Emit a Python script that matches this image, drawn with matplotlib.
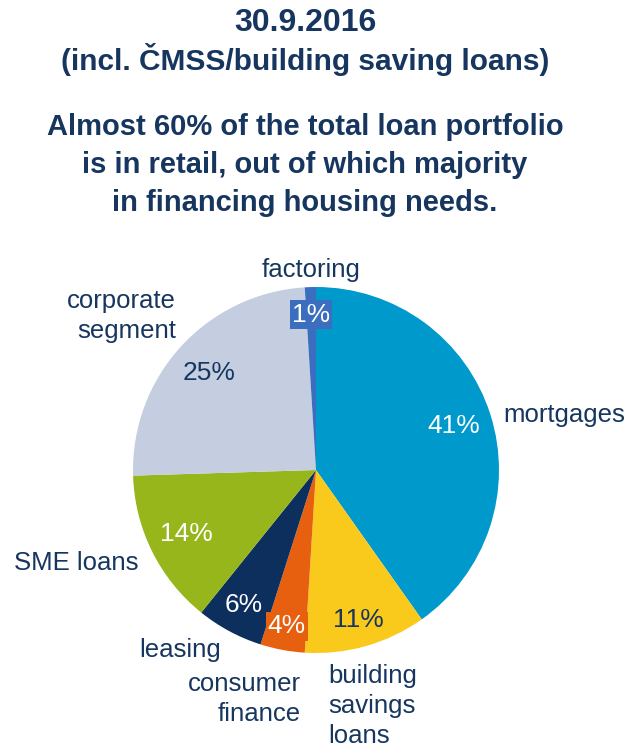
import matplotlib.pyplot as plt
import numpy as np

plt.rcParams['font.family'] = ['Liberation Sans', 'DejaVu Sans']

# loan portfolio split, clockwise from 12 o'clock
segments = ['mortgages', 'building savings loans', 'consumer finance', 'leasing',
            'SME loans', 'corporate segment', 'factoring']
shares = [41, 11, 4, 6, 14, 25, 1]
colors = ['#0099cc', '#f9c91b', '#e6600f', '#0c2f5e', '#96b61b', '#c4cee0', '#3b6ebf']
pct_colors = ['white', '#16365f', 'white', 'white', 'white', '#16365f', 'white']
pct_boxes = [None, None, '#e6600f', None, None, None, '#3b6ebf']
pct_dist = [0.79, 0.85, 0.87, 0.84, 0.79, 0.79, 0.85]

navy = '#16365f'
W, H = 631, 750

fig = plt.figure(figsize=(W / 100, H / 100), dpi=100)
ax = fig.add_axes([0, 0, 1, 1])

cx, cy, r = 316, H - 470, 183
wedges, _ = ax.pie(shares, colors=colors, startangle=90, counterclock=False,
                   center=(cx, cy), radius=r, frame=True)
ax.set_xlim(0, W)
ax.set_ylim(0, H)
ax.set_aspect('equal')
ax.axis('off')

for w, s, c, box, d in zip(wedges, shares, pct_colors, pct_boxes, pct_dist):
    mid = np.deg2rad((w.theta1 + w.theta2) / 2)
    x = cx + d * r * np.cos(mid)
    y = cy + d * r * np.sin(mid)
    kw = {}
    if box:
        kw['bbox'] = dict(facecolor=box, edgecolor='none', pad=1.5)
    ax.text(x, y, f'{s}%', color=c, fontsize=19, ha='center', va='center', **kw)

# outer category labels
outer = [
    ('factoring', 311, 270, 'center'),
    ('corporate\nsegment', 176, 316, 'right'),
    ('mortgages', 503, 415, 'left'),
    ('SME loans', 14, 563, 'left'),
    ('leasing', 139, 650, 'left'),
    ('consumer\nfinance', 301, 699, 'right'),
    ('building\nsavings\nloans', 328, 706, 'left'),
]
for txt, x, y, ha in outer:
    ax.text(x, H - y, txt, color=navy, fontsize=18.5, ha=ha, va='center',
            multialignment=ha, linespacing=1.33)

# headings
tx = 305 / W
fig.text(tx, 1 - 23 / H, '30.9.2016', color=navy, fontsize=23,
         fontweight='bold', ha='center', va='center')
fig.text(tx, 1 - 60 / H, '(incl. ČMSS/building saving loans)', color=navy,
         fontsize=21.5, fontweight='bold', ha='center', va='center')
fig.text(tx, 1 - 165 / H,
         'Almost 60% of the total loan portfolio\nis in retail, out of which majority\n'
         'in financing housing needs.',
         color=navy, fontsize=21, fontweight='bold', ha='center', va='center',
         linespacing=1.47)

fig.savefig('out.png', dpi=100)
